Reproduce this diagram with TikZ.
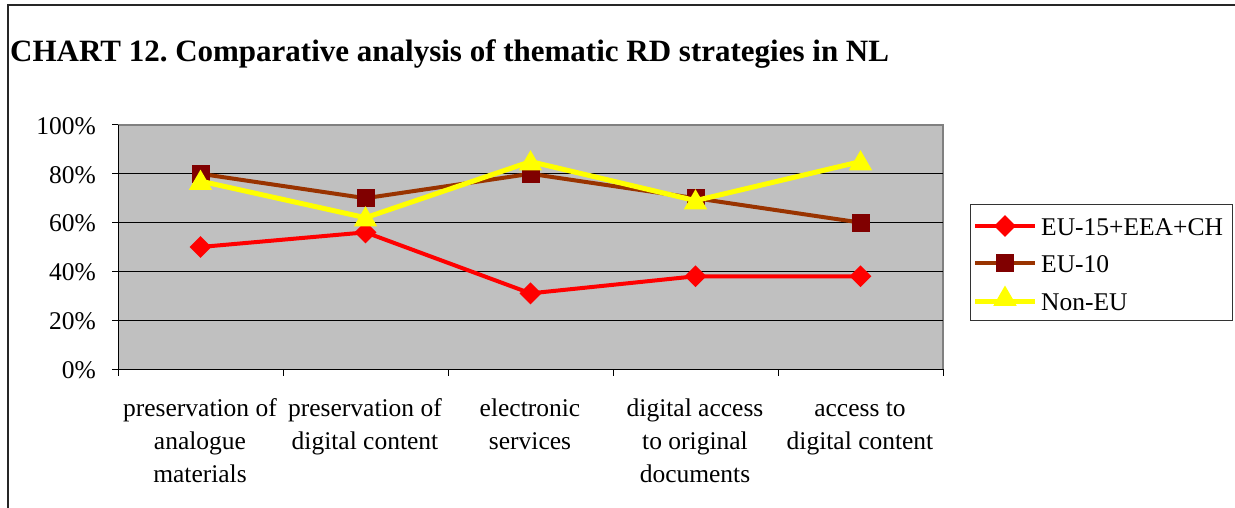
\documentclass[tikz,border=0pt]{standalone}
\usepackage{fontspec}
\setmainfont{Liberation Serif}
\usetikzlibrary{shapes.geometric}
\frenchspacing
\definecolor{plotbg}{HTML}{C0C0C0}
\definecolor{plotedge}{HTML}{808080}
\definecolor{sred}{HTML}{FF0000}
\definecolor{sbrown}{HTML}{993300}
\definecolor{smaroon}{HTML}{800000}
\definecolor{syellow}{HTML}{FFFF00}
\tikzset{
  txt/.style={font=\fontsize{25.5}{33}\selectfont, inner sep=0pt},
  catlab/.style={txt, align=center, anchor=north},
  grid line/.style={draw=black, line width=0.9pt},
  axis line/.style={draw=black, line width=1pt},
  redline/.style={draw=sred, line width=4pt, line join=round},
  brownline/.style={draw=sbrown, line width=4pt, line join=round},
  yellowline/.style={draw=syellow, line width=5pt, line join=round},
  redmark/.style={diamond, fill=sred, minimum width=22pt, minimum height=22pt, inner sep=0pt},
  brownmark/.style={rectangle, fill=smaroon, minimum size=18pt, inner sep=0pt},
  yellowmark/.style={regular polygon, regular polygon sides=3, fill=syellow, minimum size=27pt, inner sep=0pt},
}
\begin{document}
\begin{tikzpicture}[x=1pt,y=-1pt]
\useasboundingbox (0,0) rectangle (1235,508);
\fill[white] (0,0) rectangle (1235,508);
% outer frame
\draw[line width=1.4pt, black!85] (8,508) -- (8,5) -- (1235,5);
% title
\node[anchor=base west, inner sep=0pt, font=\fontsize{31}{36}\selectfont\bfseries] (title) at (10,62) {CHART 12. Comparative analysis of thematic RD strategies in NL};
% plot area
\fill[plotbg] (118,125) rectangle (943,369);
\draw[plotedge, line width=1.5pt] (118,125) -- (943,125) -- (943,369);
\foreach \p in {20,40,60,80} {
  \draw[grid line] (118,{369-2.44*\p}) -- (943,{369-2.44*\p});
}
% value axis
\draw[axis line] (118,125) -- (118,369);
\foreach \p/\lab in {0/0\%,20/20\%,40/40\%,60/60\%,80/80\%,100/100\%} {
  \draw[axis line] (112,{369-2.44*\p}) -- (118,{369-2.44*\p});
  \node[txt, anchor=east] (v\p) at (96,{369-2.44*\p+1}) {\lab};
}
% category axis
\draw[axis line] (118,369) -- (943,369);
\foreach \i in {0,...,5} {
  \draw[axis line] ({118+165*\i},369) -- ({118+165*\i},376);
}
\node[catlab] (c1) at (200,393) {\strut preservation of\\analogue\\materials};
\node[catlab] (c2) at (365,393) {\strut preservation of\\digital content};
\node[catlab] (c3) at (530,393) {\strut electronic\\services};
\node[catlab] (c4) at (695,393) {\strut digital access\\to original\\documents};
\node[catlab] (c5) at (860,393) {\strut access to\\digital content};
% data points
\foreach \s/\vals in {r/{50,56,31,38,38}, b/{80,70,80,70,60}, y/{77,62,85,69,85}} {
  \foreach \v [count=\k] in \vals {
    \coordinate (\s\k) at ({35.5+165*\k},{369-2.44*\v});
  }
}
% EU-15+EEA+CH
\draw[redline] (r1) -- (r2) -- (r3) -- (r4) -- (r5);
\foreach \k in {1,...,5} \node[redmark] (rm\k) at (r\k) {};
% EU-10
\draw[brownline] (b1) -- (b2) -- (b3) -- (b4) -- (b5);
\foreach \k in {1,...,5} \node[brownmark] (bm\k) at (b\k) {};
% Non-EU
\draw[yellowline] (y1) -- (y2) -- (y3) -- (y4) -- (y5);
\foreach \k in {1,...,5} \node[yellowmark] (ym\k) at ([yshift=-2pt]y\k) {};
% legend
\draw[line width=1pt, black!80] (970,205) rectangle (1232,320);
\coordinate (la1) at (975,226); \coordinate (lb1) at (1035,226);
\coordinate (la2) at (975,263); \coordinate (lb2) at (1035,263);
\coordinate (la3) at (975,301); \coordinate (lb3) at (1035,301);
\draw[redline] (la1) -- (lb1);
\node[redmark] (lm1) at (1005,226) {};
\node[txt, anchor=west] (lt1) at (1041,227) {EU-15+EEA+CH};
\draw[brownline] (la2) -- (lb2);
\node[brownmark] (lm2) at (1005,263) {};
\node[txt, anchor=west] (lt2) at (1041,264) {EU-10};
\draw[yellowline] (la3) -- (lb3);
\node[yellowmark] (lm3) at (1005,299) {};
\node[txt, anchor=west] (lt3) at (1041,302) {Non-EU};
\end{tikzpicture}
\end{document}
